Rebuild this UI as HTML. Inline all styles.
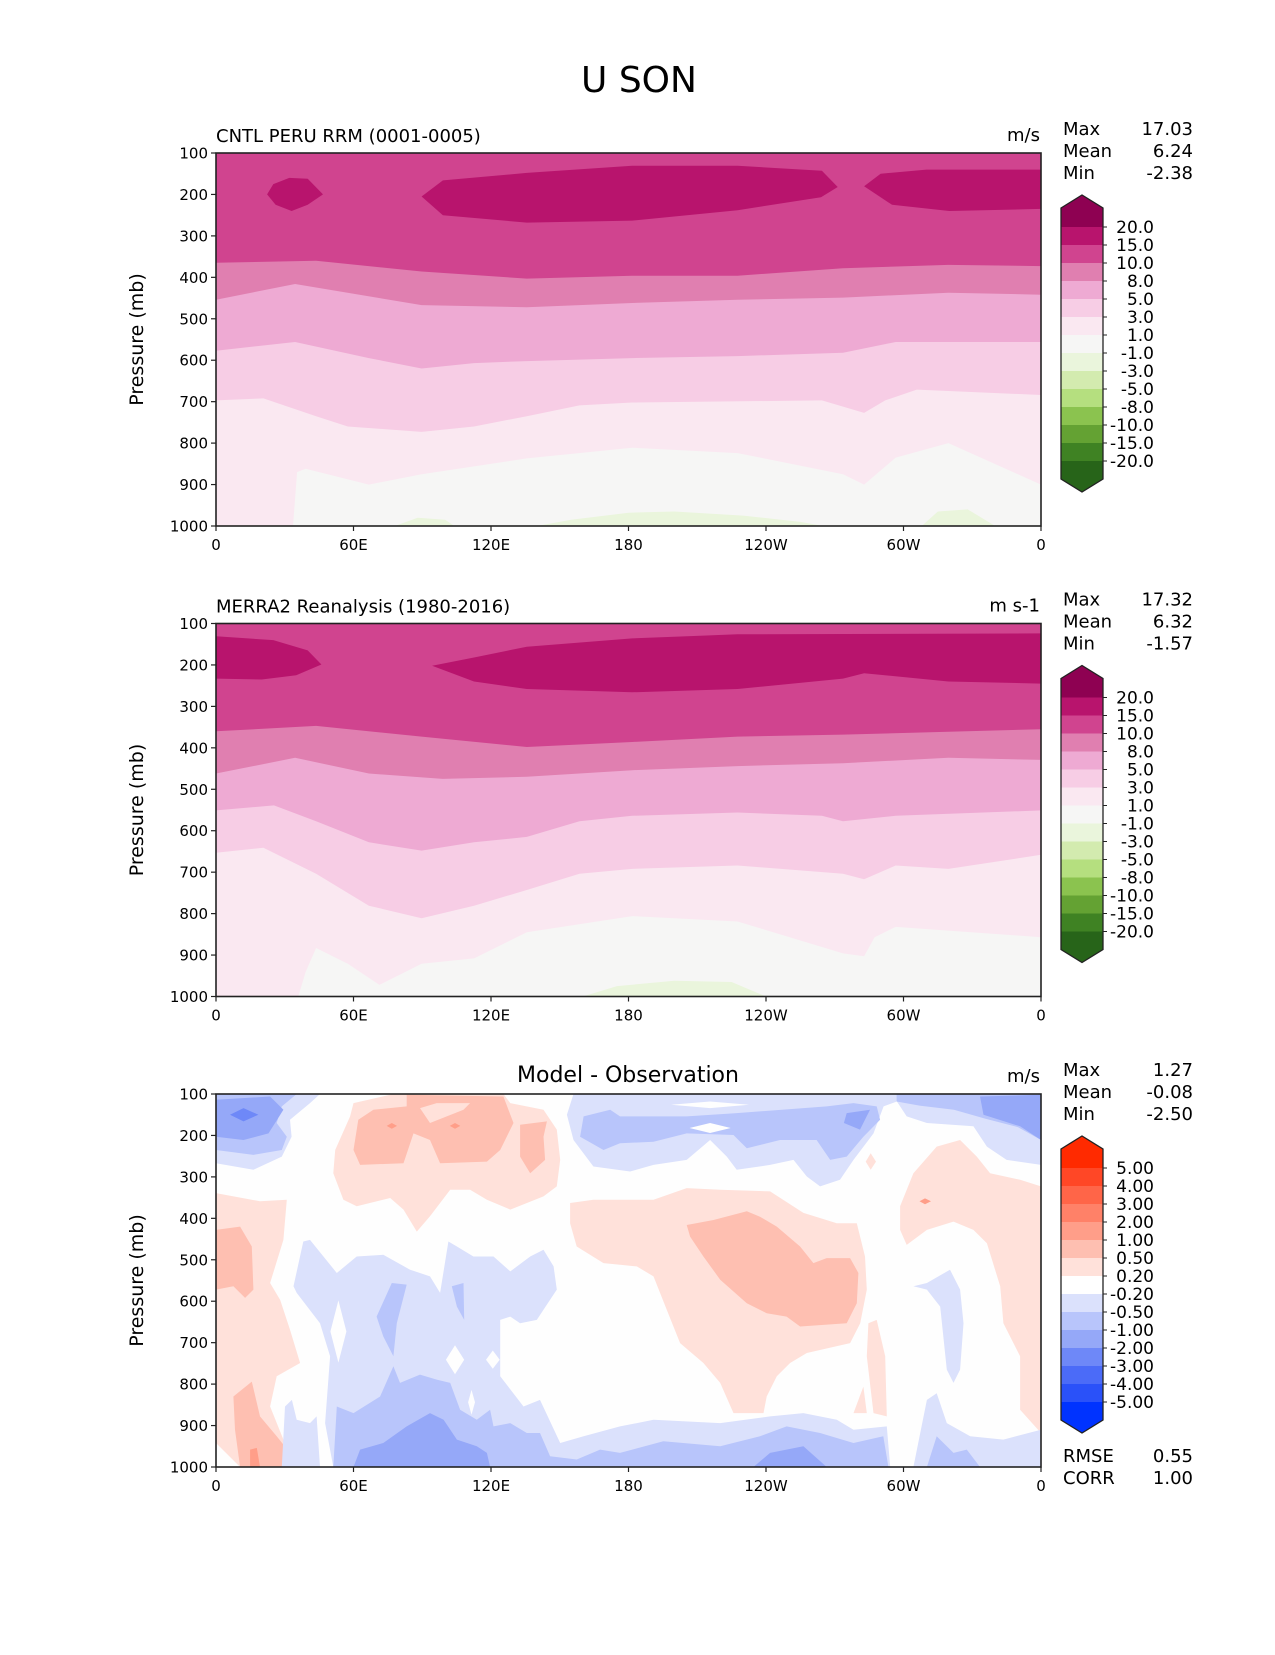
<!DOCTYPE html>
<html><head><meta charset="utf-8"><style>
body{margin:0;background:#fff}
svg text{font-family:"DejaVu Sans","Liberation Sans",sans-serif;fill:#000}
</style></head><body>
<svg id="fig" width="1275" height="1650" viewBox="0 0 1275 1650" xmlns="http://www.w3.org/2000/svg">
<rect width="1275" height="1650" fill="#fff"/>
<text x="639" y="92" font-size="36" text-anchor="middle">U SON</text>
</svg>
<script>
// ---- tick data ----
const xTickLons=[0,60,120,180,240,300,360];
const xTickLabels=["0","60E","120E","180","120W","60W","0"];
const yTicks=[100,200,300,400,500,600,700,800,900,1000];
const seqLevels=["20.0","15.0","10.0","8.0","5.0","3.0","1.0","-1.0","-3.0","-5.0","-8.0","-10.0","-15.0","-20.0"];
const seqColors=['#8e0152','#b8146d','#d0448f','#e07fb0','#eeaad3','#f7cde5','#fae8f1','#f6f6f5','#eaf5dc','#d3ebaf','#b5df7f','#8bc34f','#64a233','#3f8223','#276419'];
const difLevels=["5.00","4.00","3.00","2.00","1.00","0.50","0.20","-0.20","-0.50","-1.00","-2.00","-3.00","-4.00","-5.00"];
const difColors=['#ff2a00','#ff4726','#ff6548','#ff8168','#ff9e89','#febfb1','#ffe1da','#ffffff','#dbe1fc','#b8c5fb','#95a8f8','#6e88f8','#4b6bf8','#2a51f9','#0033ff'];
// ---- panel 1 (model) contour boundaries: [lon, pressure] ----
const m1B=[[0,365],[43.7,360],[89.7,386],[135.6,403],[181.6,396],[227.6,396],[273.6,378],[319.6,370],[360,373]];
const m1C=[[0,454],[34.5,416],[89.7,467],[135.6,472],[181.6,462],[227.6,454],[273.6,449],[319.6,437],[360,442]];
const m1D=[[0,577],[34.5,556],[66.7,595],[89.7,620],[112.6,607],[135.6,602],[181.6,595],[227.6,590],[273.6,582],[296.6,556],[360,556]];
const m1E=[[0,697],[20.7,692],[43.7,735],[57.5,760],[89.7,773],[112.6,760],[135.6,735],[158.6,709],[181.6,702],[264.4,697],[282.8,727],[292,697],[305.8,671],[360,684]];
const m1F=[[0,1000],[33.6,1000],[35.4,870],[39.1,862],[66.7,900],[89.7,875],[135.6,837],[181.6,811],[227.6,824],[273.6,875],[282.8,900],[296.6,835],[319.6,800],[360,900]];
const m1G=[[[78,1000],[88,980],[100,985],[104,1000]],[[140,1000],[155,985],[180,968],[200,965],[230,975],[255,990],[265,1000]],[[308,1000],[315,965],[328,960],[340,1000]]];
const m1Core=[[[22.3,200],[25,175],[32,160],[40,162],[46.7,200],[40,225],[33,240],[26,225]],
 [[89.7,205],[99,166],[135.6,148],[181.6,131],[227.6,131],[264.4,143],[271.3,182],[264,207],[227.6,238],[181.6,263],[135.6,268],[99,250]],
 [[282.8,180],[290,150],[310,140],[360,140],[360,235],[320,240],[295,225]]];
// ---- panel 2 (obs) ----
const m2B=[[0,360],[43.7,347],[89.7,373],[135.6,398],[181.6,386],[227.6,373],[273.6,368],[360,355]];
const m2C=[[0,462],[34.5,424],[66.7,462],[98.9,475],[135.6,470],[181.6,454],[227.6,444],[273.6,437],[319.6,424],[360,429]];
const m2D=[[0,551],[25.3,539],[43.7,577],[66.7,628],[89.7,648],[112.6,628],[135.6,615],[158.6,577],[181.6,564],[227.6,556],[264.4,564],[273.6,577],[296.6,564],[360,551]];
const m2E=[[0,653],[20.7,641],[43.7,704],[66.7,781],[89.7,811],[112.6,781],[135.6,743],[158.6,704],[181.6,692],[227.6,684],[273.6,704],[282.8,717],[296.6,684],[319.6,692],[360,658]];
const m2F=[[0,1000],[35.9,1000],[39.1,941],[43.7,883],[57.5,921],[71.3,972],[89.7,921],[112.6,908],[135.6,845],[181.6,806],[227.6,819],[273.6,896],[282.8,903],[287.4,857],[296.6,832],[360,857]];
const m2G=[[[160,1000],[175,975],[200,962],[225,965],[240,1000]]];
const m2Core=[[[0,131],[25,140],[40,165],[46,199],[35,225],[20,235],[0,233]],
 [[94.3,202],[112.6,182],[135.6,156],[181.6,136],[227.6,126],[360,124],[360,245],[319.6,240],[282.8,220],[273.6,233],[227.6,258],[181.6,266],[135.6,258],[112.6,240]]];
// ---- panel 3 (difference) patches ----
const dRed1=[
 [[77.4,100],[125.4,100],[128.4,122],[142.9,138],[148.7,186],[150.2,259],[148.7,323],[142.9,347],[128.4,379],[118.2,355],[110.9,331],[102.2,331],[93.4,395],[87.6,432],[81.8,379],[76,351],[61.4,371],[55.6,355],[51.2,291],[52,235],[58.5,154],[60,122]],
 [[154.5,363],[164.7,355],[190.9,355],[205.4,327],[220,331],[241.8,335],[256.3,387],[270.9,412],[279.6,412],[283.2,492],[284,572],[281.1,653],[276.7,701],[257.8,725],[250.5,749],[244.7,781],[240.3,830],[238.9,870],[225.8,870],[220,797],[212.7,749],[202.5,701],[196.7,621],[190.9,540],[183.6,516],[176.3,512],[169.1,508],[157.4,468],[154.5,412]],
 [[298.5,371],[304.3,291],[314.5,227],[324.7,211],[332,251],[337.8,291],[350.9,307],[360,323],[360,918],[350.9,862],[350.9,733],[343.6,653],[342.2,564],[336.4,460],[330.5,428],[321.8,408],[310.2,428],[301.4,464],[298.5,428]],
 [[284.7,653],[288.3,645],[292,733],[292.7,878],[286.9,870],[284,733]],
 [[278.2,870],[282.5,806],[284,870]],
 [[283.5,263],[285.7,243],[288,263],[285.7,283]],
 [[0,339],[19.2,359],[30.9,355],[29.4,452],[23.6,556],[28,597],[32.3,669],[36.7,749],[26.5,781],[23.6,854],[29.4,934],[33.8,1000],[10.5,1000],[0,942]]];
const dRed2=[
 [[83.2,102],[125.4,106],[129.8,170],[124,235],[118.2,263],[97.8,267],[93.4,211],[86.2,195],[81.8,267],[62.9,271],[60,235],[62.1,162],[68.7,138],[83.2,130]],
 [[132.7,174],[144.4,166],[142.9,203],[143.6,259],[137.1,291],[132.7,251]],
 [[205.4,416],[217.1,404],[231.6,383],[237.4,396],[244.7,420],[254.9,468],[260.7,508],[266.5,496],[276.7,496],[280.3,532],[279.6,605],[275.2,653],[254.9,661],[249,637],[240.3,629],[231.6,605],[220,548],[212.7,492],[206.9,444]],
 [[0,428],[10.5,420],[15.6,468],[16.3,572],[12.7,592],[7.6,564],[0,572]],
 [[7.6,830],[15.6,794],[19.2,878],[26.5,926],[32.3,966],[33.1,1000],[10.5,1000],[8.3,910]]];
const dRed3=[[[14.9,958],[17.8,954],[19.2,1000],[14.9,1000]],
 [[74.5,177],[76.7,170],[79,177],[76.7,184]],[[102,177],[104.3,170],[106.6,177],[104.3,184]],[[307,359],[309.4,352],[312,359],[309.4,366]]];
const dPaleIn=[[[89,134],[96.3,122],[110.9,122],[108,138],[93.4,170]]];
const dBlue1=[
 [[0,100],[45.4,100],[41,122],[32.3,162],[33,203],[28.7,251],[16.3,283],[0,267]],
 [[156,100],[153.1,150],[156,211],[164.7,275],[180.7,287],[190.9,271],[205.4,259],[215.6,211],[222.9,251],[227.2,283],[241.8,271],[252,259],[257.8,299],[263.6,323],[272.3,307],[278.2,259],[286.9,195],[291.3,130],[297.1,118],[301.4,154],[310.2,170],[330.5,178],[336.4,227],[345,259],[360,271],[360,100]],
 [[304.3,564],[310.2,556],[320.3,524],[324.7,572],[326.2,653],[324.7,765],[321.8,797],[318.9,765],[316,613],[310.2,572]],
 [[33.8,564],[38.1,456],[41,452],[52.7,532],[61.4,492],[73,488],[84.7,524],[93.4,540],[97.8,580],[101.4,456],[105.1,468],[112.3,492],[121.1,492],[128.4,528],[137.1,492],[142.9,476],[147.3,516],[148.7,572],[140,645],[132.7,653],[128.4,637],[124,645],[124,781],[134.2,854],[141.4,838],[150.2,942],[160.4,926],[176.3,902],[190.9,886],[220,894],[241.8,878],[256.3,870],[270.9,886],[278.2,910],[292.7,902],[294.2,1000],[51.2,1000],[47.6,894],[49.8,733],[45.4,653],[35.2,580]],
 [[304.3,1000],[310.2,838],[314.5,822],[318.9,894],[329.1,926],[343.6,934],[360,910],[360,1000]],
 [[28.7,1000],[30.1,854],[33.1,838],[35.2,886],[41,894],[43.9,878],[45.4,1000]]];
const dBlue2=[
 [[0,100],[35.2,100],[28.7,130],[26.5,170],[30.9,203],[28.7,235],[16.3,247],[0,235]],
 [[158.9,203],[160.4,154],[172,138],[176.3,154],[205.4,154],[227.2,146],[266.5,130],[278.2,122],[288.3,130],[289.8,162],[282.5,203],[275.2,251],[268,259],[262.1,211],[246.1,211],[231.6,231],[225.8,199],[205.4,195],[190.9,215],[176.3,219],[169.1,235]],
 [[297,100],[360,100],[360,211],[350,180],[336,160],[322,138],[307,128],[297,118]],
 [[70.1,637],[76.7,556],[83.2,560],[78.9,653],[77.4,733],[73,685]],
 [[102.9,564],[108,556],[108.3,645],[105.1,613]],
 [[51.2,1000],[52.7,854],[60,870],[71.6,830],[77.4,757],[80.3,797],[89,777],[96.3,789],[102.2,797],[106.5,862],[113.8,886],[119.6,862],[121.1,902],[128.4,894],[135.6,918],[141.4,918],[145.8,974],[157.4,982],[167.6,958],[176.3,966],[195.2,938],[220,950],[237.4,926],[249,902],[263.6,918],[278.2,942],[291.2,926],[293.4,1000]],
 [[310.2,1000],[314.5,926],[321.8,966],[327.6,958],[333.4,1000]]];
const dBlue3=[
 [[0,114],[23.6,106],[29.4,138],[22.9,195],[12,211],[0,203]],
 [[333.4,106],[360,102],[360,211],[350.9,178],[334.9,150]],
 [[275.2,146],[285.4,138],[281,186],[274,170]],
 [[60,1000],[62.9,958],[73,942],[83.2,902],[93.4,870],[99.3,886],[105.1,934],[113.8,950],[118.2,966],[119.6,1000]],
 [[234.5,1000],[241.8,966],[256.3,950],[266.5,1000]]];
const dBlue4=[[[6.1,150],[12,134],[18.5,150],[12,166]]];
const dWhite=[[[198.6,126],[215.6,118],[232.6,126],[215.6,134]],[[206.6,182],[215.6,170],[224.6,182],[215.6,194]],
 [[53.4,598],[56.9,673],[53.4,748],[49.9,673]],[[104.3,706],[108.3,741],[104.3,776],[100.3,741]],[[120.8,719],[123.8,741],[120.8,763],[117.8,741]],[[111.5,814],[113,844],[111.5,874],[110,844]]];
// ---- stats ----
const stats1=[["Max","17.03"],["Mean","6.24"],["Min","-2.38"]];
const stats2=[["Max","17.32"],["Mean","6.32"],["Min","-1.57"]];
const stats3=[["Max","1.27"],["Mean","-0.08"],["Min","-2.50"]];
const stats3b=[["RMSE","0.55"],["CORR","1.00"]];

const NS='http://www.w3.org/2000/svg';
const svg=document.getElementById('fig');
const L=216,W=825,H=373;
const tops=[153,623.5,1094];
function X(lon){return L+lon/360*W;}
function Y(p,top){return top+(p-100)/900*H;}
function mk(tag,attrs,parent){const e=document.createElementNS(NS,tag);for(const k in attrs)e.setAttribute(k,attrs[k]);(parent||svg).appendChild(e);return e;}
function poly(pts,top,fill,g,name){
  const e=mk('polygon',{points:pts.map(q=>X(q[0]).toFixed(1)+','+Y(q[1],top).toFixed(1)).join(' '),fill:fill},g);
  
  
  return e;}
function band(b,top,fill,g,name){return poly(b.concat([[360,1000],[0,1000]]),top,fill,g,name);}
function txt(s,x,y,size,anchor,parent,name){const t=mk('text',{x:x,y:y,'font-size':size,'text-anchor':anchor||'start'},parent);t.textContent=s;
  
  
  return t;}

function panel(i,draw,leftTitle,rightUnit,centerTitle,cbColors,cbLevels,stats){
  const top=tops[i];
  const g=mk('g',{});
  
  
  const cp=mk('clipPath',{id:'cp'+i},g);mk('rect',{x:L,y:top,width:W,height:H},cp);
  const pg=mk('g',{'clip-path':'url(#cp'+i+')'},g);
  
  
  draw(pg,top);
  const fr=mk('rect',{x:L,y:top,width:W,height:H,fill:'none',stroke:'#222','stroke-width':1.6},g);
  
  
  yTicks.forEach(p=>{const y=Y(p,top);mk('line',{x1:L-5,x2:L,y1:y,y2:y,stroke:'#222','stroke-width':1.2},g);
    txt(String(p),L-8,y+5.5,15,'end',g,'y-tick-label');});
  xTickLons.forEach((lon,k)=>{const x=X(lon);mk('line',{x1:x,x2:x,y1:top+H,y2:top+H+5,stroke:'#222','stroke-width':1.2},g);
    txt(xTickLabels[k],x,top+H+24,15,'middle',g,'x-tick-label');});
  const yl=txt('Pressure (mb)',0,0,19,'middle',g,'y-axis-title');yl.setAttribute('transform','translate(143,'+(top+H/2)+') rotate(-90)');
  if(leftTitle)txt(leftTitle,L,top-11,18,'start',g,'panel-title');
  if(centerTitle)txt(centerTitle,628,top-12,22,'middle',g,'panel-title');
  txt(rightUnit,1040,top-12,18,'end',g,'units-label');
  stats.forEach((s,k)=>{txt(s[0],1063,top-18+k*22,18,'start',g,'stat-label');txt(s[1],1193,top-18+k*22,18,'end',g,'stat-value');});
  // colorbar
  const cb=mk('g',{},g);
  
  
  const tip=top+42,rt=tip+13,b0=rt+19,step=18,n=cbLevels.length;
  const bl=b0+(n-1)*step, rb=bl+18, tb=rb+13, x0=1061,x1=1103,xc=1082;
  const up=mk('polygon',{points:`${x0},${b0} ${x0},${rt} ${xc},${tip} ${x1},${rt} ${x1},${b0}`,fill:cbColors[0]},cb);
  
  
  for(let k=0;k<n-1;k++){const r=mk('rect',{x:x0,y:b0+k*step,width:x1-x0,height:step+0.5,fill:cbColors[k+1]},cb);
    
    }
  const dn=mk('polygon',{points:`${x0},${bl} ${x0},${rb} ${xc},${tb} ${x1},${rb} ${x1},${bl}`,fill:cbColors[n]},cb);
  
  
  mk('polygon',{points:`${x0},${rt} ${xc},${tip} ${x1},${rt} ${x1},${rb} ${xc},${tb} ${x0},${rb}`,fill:'none',stroke:'#222','stroke-width':1.3},cb);
  cbLevels.forEach((lv,k)=>{const y=b0+k*step;mk('line',{x1:x1,x2:x1+4,y1:y,y2:y,stroke:'#222','stroke-width':1},cb);
    txt(lv,1154,y+6,17,'end',cb,'colorbar-label');});
  return top;
}
function drawSeq(B,C,D,E,F,G,Core){return function(g,top){
  mk('rect',{x:L,y:top,width:W,height:H,fill:seqColors[2]},g);
  Core.forEach(c=>poly(c,top,seqColors[1],g,'jet-core'));
  band(B,top,seqColors[3],g,'contour-10');
  band(C,top,seqColors[4],g,'contour-8');
  band(D,top,seqColors[5],g,'contour-5');
  band(E,top,seqColors[6],g,'contour-3');
  band(F,top,seqColors[7],g,'contour-1');
  G.forEach(c=>poly(c,top,seqColors[8],g,'contour-neg1'));
};}
panel(0,drawSeq(m1B,m1C,m1D,m1E,m1F,m1G,m1Core),'CNTL PERU RRM (0001-0005)','m/s',null,seqColors,seqLevels,stats1);
panel(1,drawSeq(m2B,m2C,m2D,m2E,m2F,m2G,m2Core),'MERRA2 Reanalysis (1980-2016)','m s-1',null,seqColors,seqLevels,stats2);
const t3=panel(2,function(g,top){
  mk('rect',{x:L,y:top,width:W,height:H,fill:'#fefefe'},g);
  dRed1.forEach(c=>poly(c,top,difColors[6],g,'diff-pos-0.2'));
  dRed2.forEach(c=>poly(c,top,difColors[5],g,'diff-pos-0.5'));
  dPaleIn.forEach(c=>poly(c,top,difColors[6],g,'diff-pos-0.2'));
  dRed3.forEach(c=>poly(c,top,difColors[4],g,'diff-pos-1'));
  dBlue1.forEach(c=>poly(c,top,difColors[8],g,'diff-neg-0.2'));
  dBlue2.forEach(c=>poly(c,top,difColors[9],g,'diff-neg-0.5'));
  dBlue3.forEach(c=>poly(c,top,difColors[10],g,'diff-neg-1'));
  dBlue4.forEach(c=>poly(c,top,difColors[11],g,'diff-neg-2'));
  dWhite.forEach(c=>poly(c,top,'#fefefe',g,'diff-near-zero'));
},null,'m/s','Model - Observation',difColors,difLevels,stats3);
stats3b.forEach((s,k)=>{txt(s[0],1063,t3+368+k*22,18,'start',svg,'stat-label');txt(s[1],1193,t3+368+k*22,18,'end',svg,'stat-value');});
</script>
</body></html>
